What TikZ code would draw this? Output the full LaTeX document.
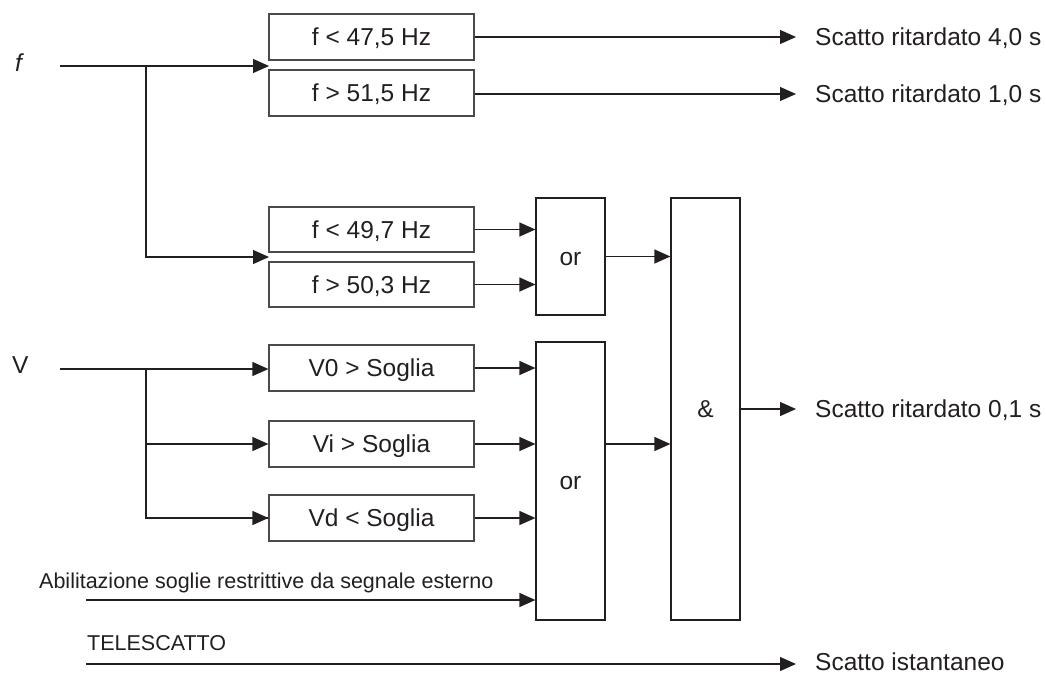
\documentclass[tikz,border=0pt]{standalone}
\usepackage{fontspec}
\setmainfont{Liberation Sans}
\usetikzlibrary{arrows.meta}
\definecolor{ink}{HTML}{231F20}
\definecolor{edge}{HTML}{4A4A4A}
\begin{document}
\begin{tikzpicture}[x=1pt,y=-1pt,
  every node/.style={font=\fontsize{24.5}{28}\selectfont, text=ink, text height=17.6pt, text depth=0pt},
  small/.style={font=\fontsize{21.5}{25}\selectfont, text height=15.5pt},
  blk/.style={draw=edge, line width=1.2pt, minimum width=205pt, minimum height=46pt, inner sep=0pt},
  gate/.style={draw=ink, line width=1.2pt, minimum width=69pt, inner sep=0pt},
  lbl/.style={inner sep=0pt, anchor=west},
  conn/.style={draw=ink, line width=1.2pt},
  arr/.style={conn, -{Triangle[length=16pt,width=14pt]}}]
\useasboundingbox (0,0) rectangle (1046,673);
% input labels
\node[lbl] (flab) at (15,63) {\itshape f};
\node[lbl] (vlab) at (12,365) {V};
% frequency blocks
\node[blk] (b1) at (371.5,37) {f < 47,5 Hz};
\node[blk] (b2) at (371.5,93) {f > 51,5 Hz};
\node[blk, minimum height=45pt] (b3) at (371.5,229.5) {f < 49,7 Hz};
\node[blk, minimum height=45pt] (b4) at (371.5,284.5) {f > 50,3 Hz};
% voltage blocks
\node[blk] (v0) at (371.5,368) {V0 > Soglia};
\node[blk] (vi) at (371.5,444) {Vi > Soglia};
\node[blk] (vd) at (371.5,518) {Vd < Soglia};
% gates
\node[gate, minimum height=117pt] (or1) at (570.5,256.5) {or};
\node[gate, minimum height=278pt] (or2) at (570.5,481) {or};
\node[gate, minimum height=422pt] (and) at (705.5,409) {\&};
% outputs
\node[lbl] (o1) at (815,37) {Scatto ritardato 4,0 s};
\node[lbl] (o2) at (815,94) {Scatto ritardato 1,0 s};
\node[lbl] (o3) at (815,409) {Scatto ritardato 0,1 s};
\node[lbl] (o4) at (815,662) {Scatto istantaneo};
% other labels
\node[lbl, small] (ab) at (39,581) {Abilitazione soglie restrittive da segnale esterno};
\node[lbl, small] (tel) at (87,643) {TELESCATTO};
% coordinates
\coordinate (fin) at (60,66);
\coordinate (fbr) at (146,66);
\coordinate (fa) at (269,66);
\coordinate (fb) at (269,257);
\coordinate (vin) at (60,369);
\coordinate (vbr) at (146,369);
\coordinate (abin) at (86,600);
\coordinate (telin) at (86,664);
\coordinate (o4t) at ([xshift=-19pt]o4.west);
% f connections
\draw[arr] (fin) -- (fa);
\draw[arr] (fbr) |- (fb);
% outputs of top blocks
\draw[arr] (b1.east) -- ([xshift=-19pt]o1.west);
\draw[arr] (b2.east |- o2.west) -- ([xshift=-19pt]o2.west);
% to or1
\draw[arr] (b3.east) -- (b3.east -| or1.west);
\draw[arr] (b4.east) -- (b4.east -| or1.west);
% V connections
\draw[arr] (vin) -- (vin -| v0.west);
\draw[conn] (vbr) |- (vd.west);
\draw[arr] (vbr |- vi.west) -- (vi.west);
\draw[arr] ([xshift=-40pt]vd.west) -- (vd.west);
% to or2
\draw[arr] (v0.east) -- (v0.east -| or2.west);
\draw[arr] (vi.east) -- (vi.east -| or2.west);
\draw[arr] (vd.east) -- (vd.east -| or2.west);
\draw[arr] (abin) -- (abin -| or2.west);
% gates to and
\draw[arr] (or1.east) -- (or1.east -| and.west);
\draw[arr] (or2.east |- vi.east) -- (and.west |- vi.east);
\draw[arr] (and.east |- o3.west) -- ([xshift=-19pt]o3.west);
% telescatto
\draw[arr] (telin) -- (telin -| o4t);
\end{tikzpicture}
\end{document}
